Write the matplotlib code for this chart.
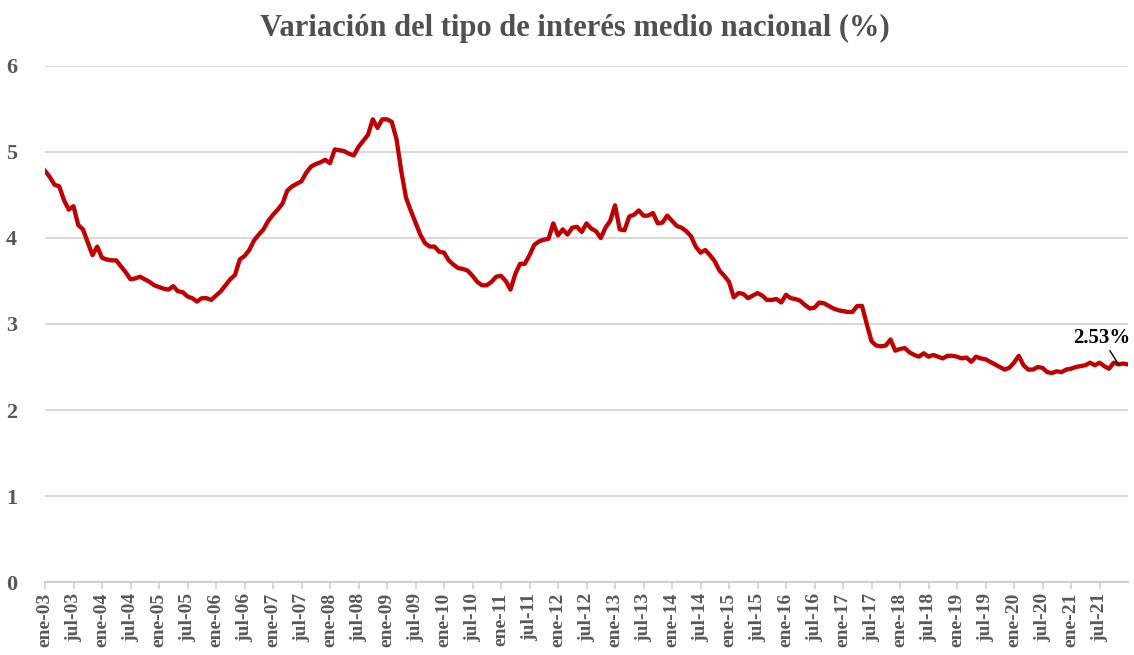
import matplotlib
matplotlib.use("Agg")
import matplotlib.pyplot as plt
import numpy as np

title = "Variación del tipo de interés medio nacional (%)"

rate_2003 = [4.78, 4.71, 4.62, 4.60, 4.44, 4.33, 4.37, 4.15, 4.10, 3.95, 3.80, 3.90]
rate_2004 = [3.77, 3.75, 3.74, 3.74, 3.67, 3.60, 3.52, 3.53, 3.55, 3.52, 3.49, 3.45]
rate_2005 = [3.43, 3.41, 3.40, 3.44, 3.38, 3.37, 3.32, 3.30, 3.26, 3.30, 3.30, 3.28]
rate_2006 = [3.33, 3.38, 3.45, 3.52, 3.57, 3.75, 3.79, 3.86, 3.97, 4.04, 4.10, 4.20]
rate_2007 = [4.27, 4.33, 4.40, 4.55, 4.60, 4.63, 4.66, 4.76, 4.83, 4.86, 4.88, 4.91]
rate_2008 = [4.87, 5.03, 5.02, 5.01, 4.98, 4.96, 5.06, 5.13, 5.20, 5.38, 5.28, 5.38]
rate_2009 = [5.38, 5.35, 5.15, 4.78, 4.47, 4.32, 4.18, 4.04, 3.94, 3.90, 3.90, 3.84]
rate_2010 = [3.83, 3.74, 3.69, 3.65, 3.64, 3.62, 3.56, 3.49, 3.45, 3.45, 3.49, 3.55]
rate_2011 = [3.56, 3.50, 3.40, 3.58, 3.70, 3.70, 3.80, 3.92, 3.96, 3.98, 3.99, 4.17]
rate_2012 = [4.03, 4.10, 4.04, 4.12, 4.13, 4.07, 4.17, 4.11, 4.08, 4.00, 4.12, 4.20]
rate_2013 = [4.38, 4.10, 4.09, 4.25, 4.27, 4.32, 4.26, 4.26, 4.29, 4.17, 4.18, 4.26]
rate_2014 = [4.20, 4.14, 4.12, 4.08, 4.02, 3.90, 3.83, 3.86, 3.80, 3.73, 3.62, 3.56]
rate_2015 = [3.49, 3.31, 3.36, 3.35, 3.30, 3.33, 3.36, 3.33, 3.28, 3.28, 3.29, 3.25]
rate_2016 = [3.34, 3.30, 3.29, 3.27, 3.22, 3.18, 3.19, 3.25, 3.24, 3.21, 3.18, 3.16]
rate_2017 = [3.15, 3.14, 3.14, 3.21, 3.21, 3.00, 2.80, 2.75, 2.74, 2.75, 2.82, 2.69]
rate_2018 = [2.71, 2.72, 2.67, 2.64, 2.62, 2.66, 2.62, 2.64, 2.62, 2.60, 2.63, 2.63]
rate_2019 = [2.62, 2.60, 2.61, 2.56, 2.62, 2.60, 2.59, 2.56, 2.53, 2.50, 2.47, 2.49]
rate_2020 = [2.55, 2.63, 2.52, 2.47, 2.47, 2.50, 2.49, 2.44, 2.43, 2.45, 2.44, 2.47]
rate_2021 = [2.48, 2.50, 2.51, 2.52, 2.55, 2.52, 2.55, 2.51, 2.48, 2.55, 2.53, 2.54]
rate_2022 = [2.53]

rate = (rate_2003 + rate_2004 + rate_2005 + rate_2006 + rate_2007 + rate_2008 +
        rate_2009 + rate_2010 + rate_2011 + rate_2012 + rate_2013 + rate_2014 +
        rate_2015 + rate_2016 + rate_2017 + rate_2018 + rate_2019 + rate_2020 +
        rate_2021 + rate_2022)

years = list(range(2003, 2022))
tick_labels = []
for y in years:
    tick_labels.append(f"ene-{y % 100:02d}")
    tick_labels.append(f"jul-{y % 100:02d}")
tick_pos = [6 * i for i in range(len(tick_labels))]

last_label = "2.53%"

plt.rcParams['font.family'] = ['Liberation Serif', 'DejaVu Serif']
plt.rcParams['font.weight'] = 'bold'

fig = plt.figure(figsize=(11.34, 6.55), dpi=100)
ax = fig.add_axes([45 / 1134, 73 / 655, (1128 - 45) / 1134, (582 - 66) / 655])

x = np.arange(len(rate))
ax.plot(x, rate, color='#C00000', lw=3.1, solid_joinstyle='round', zorder=3)

ax.set_xlim(0, len(rate) - 1)
ax.set_ylim(0, 6)
ax.set_yticks(range(0, 7))
ax.yaxis.grid(True, color='#d9d9d9', lw=1.5)
ax.set_axisbelow(True)
for s in ['top', 'right', 'left']:
    ax.spines[s].set_visible(False)
ax.spines['bottom'].set_color('#d0d0d0')
ax.spines['bottom'].set_linewidth(1.5)

ax.set_xticks(tick_pos)
ax.set_xticklabels(tick_labels, rotation=90, fontsize=14, color='#595959', fontweight='bold')
ax.tick_params(axis='x', length=5, width=1.2, color='#d0d0d0', pad=3)
ax.tick_params(axis='y', length=0, pad=20, labelsize=16, labelcolor='#595959')
for lab in ax.get_yticklabels():
    lab.set_fontweight('bold')

fig.text(575 / 1134, 1 - 28 / 655, title, ha='center', va='center',
         fontsize=22, fontweight='bold', color='#505050')

n = len(rate)
ax.annotate(last_label, xy=(n - 3, rate[n - 3]), xytext=(n - 6.5, 2.84),
            ha='center', va='center', fontsize=15, fontweight='bold', color='black',
            arrowprops=dict(arrowstyle='-', color='black', lw=1, shrinkA=0, shrinkB=0),
            zorder=4)

fig.savefig('out.png', dpi=100)
